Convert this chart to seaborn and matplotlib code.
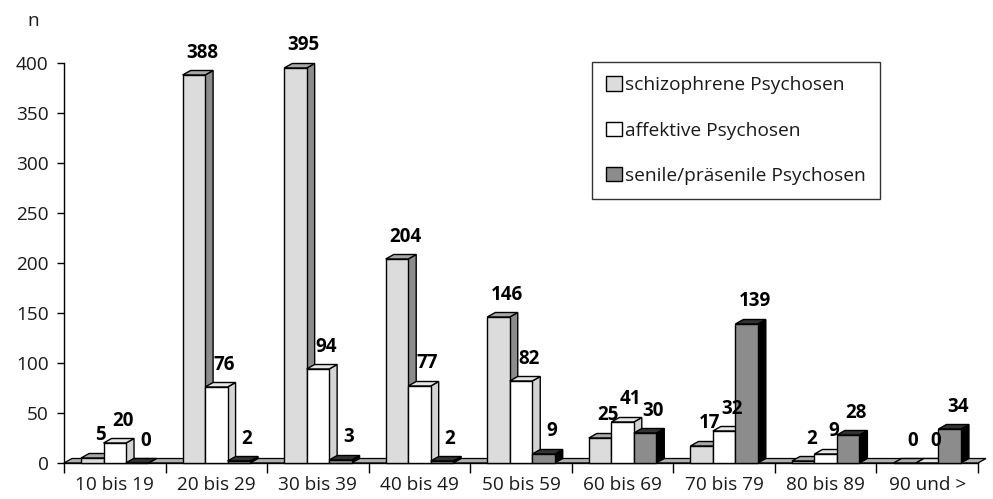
import numpy as np
import pandas as pd
import seaborn as sns
import matplotlib.pyplot as plt
from matplotlib.patches import Polygon, Patch

# Patients per age group and diagnosis
age_groups = ["10 bis 19", "20 bis 29", "30 bis 39", "40 bis 49", "50 bis 59",
              "60 bis 69", "70 bis 79", "80 bis 89", "90 und >"]
series_names = ["schizophrene Psychosen", "affektive Psychosen",
                "senile/präsenile Psychosen"]
schizophrene = [5, 388, 395, 204, 146, 25, 17, 2, 0]
affektive = [20, 76, 94, 77, 82, 41, 32, 9, 0]
senile = [0, 2, 3, 2, 9, 30, 139, 28, 34]
y_ticks = [0, 50, 100, 150, 200, 250, 300, 350, 400]

# Face shading for the pseudo-3D columns: front, right side, top
front_colors = ["#dcdcdc", "#ffffff", "#8c8c8c"]
side_colors = ["#8c8c8c", "#d4d4d4", "#000000"]
top_colors = ["#a8a8a8", "#e6e6e6", "#333333"]

df = pd.DataFrame({
    "Altersgruppe": age_groups * 3,
    "Diagnose": np.repeat(series_names, len(age_groups)),
    "n": schizophrene + affektive + senile,
})

sns.set_theme(style="white")
plt.rcParams["font.family"] = ["Open Sans", "DejaVu Sans"]

W, H = 993, 499
fig = plt.figure(figsize=(W / 100, H / 100), dpi=100)
ax = fig.add_axes([64 / W, 36 / H, 914 / W, 400 / H])

sns.barplot(data=df, x="Altersgruppe", y="n", hue="Diagnose",
            order=age_groups, hue_order=series_names, palette=front_colors,
            saturation=1, width=0.664, edgecolor="black", linewidth=1.0,
            errorbar=None, legend=False, ax=ax)

ax.set_xlim(-0.5, len(age_groups) - 0.5)
ax.set_ylim(0, 400)

# depth of the columns, given in pixels and converted to data units
depth_px = (8.0, 4.5)
x_per_px = (len(age_groups)) / 914
y_per_px = 400 / 400
dx, dy = depth_px[0] * x_per_px, depth_px[1] * y_per_px

# floor strip behind the columns
floor = Polygon([(-0.5, 0), (len(age_groups) - 0.5, 0),
                 (len(age_groups) - 0.5 + dx, dy), (-0.5 + dx, dy)],
                closed=True, facecolor="#b0b0b0", edgecolor="black",
                linewidth=0.9, zorder=1.5, clip_on=False)
ax.add_patch(floor)

values = [schizophrene, affektive, senile]
for j, container in enumerate(ax.containers):
    for i, bar in enumerate(container):
        x0, w, h = bar.get_x(), bar.get_width(), bar.get_height()
        z = 3 + j
        side = Polygon([(x0 + w, 0), (x0 + w + dx, dy), (x0 + w + dx, h + dy), (x0 + w, h)],
                       closed=True, facecolor=side_colors[j], edgecolor="black",
                       linewidth=1.0, zorder=z, clip_on=False)
        top = Polygon([(x0, h), (x0 + dx, h + dy), (x0 + w + dx, h + dy), (x0 + w, h)],
                      closed=True, facecolor=top_colors[j], edgecolor="black",
                      linewidth=1.0, zorder=z, clip_on=False)
        ax.add_patch(side)
        ax.add_patch(top)
        bar.set_zorder(z + 0.1)
        bar.set_clip_on(False)
        ax.annotate(str(values[j][i]), xy=(x0 + w / 2, h + dy), xytext=(8, 8),
                    textcoords="offset pixels", ha="center", va="bottom",
                    fontsize=13.5, fontweight="bold", color="black",
                    annotation_clip=False, zorder=10)

# category boundaries carry the tick marks, centres carry the labels
ax.set_xticks(np.arange(-0.5, len(age_groups)), labels=[])
ax.set_xticks(np.arange(len(age_groups)), labels=age_groups, minor=True)
ax.tick_params(axis="x", which="major", direction="out", length=7, width=1,
               color="black", bottom=True)
ax.tick_params(axis="x", which="minor", length=0, pad=9, labelsize=13.7,
               labelcolor="#1a1a1a")
ax.set_yticks(y_ticks)
ax.tick_params(axis="y", direction="out", length=5, width=1, color="black",
               left=True, pad=6, labelsize=13.7, labelcolor="#1a1a1a")
ax.set_xlabel("")
ax.set_ylabel("")

for s in ["top", "right"]:
    ax.spines[s].set_visible(False)
for s in ["left", "bottom"]:
    ax.spines[s].set_color("black")
    ax.spines[s].set_linewidth(1.0)
ax.spines["bottom"].set_zorder(2)

fig.text(33 / W, 1 - 21 / H, "n", ha="center", va="center", fontsize=13.7,
         color="#1a1a1a")

handles = [Patch(facecolor=c, edgecolor="black", linewidth=1.0) for c in front_colors]
leg = fig.legend(handles, series_names, loc="upper left",
                 bbox_to_anchor=(592 / W, 1 - 62 / H), frameon=True,
                 fontsize=13.8, handlelength=0.8, handleheight=0.8,
                 handletextpad=0.15, labelspacing=1.42, borderpad=0.75,
                 fancybox=False, borderaxespad=0)
leg.get_frame().set_edgecolor("black")
leg.get_frame().set_linewidth(1.0)
for t in leg.get_texts():
    t.set_color("#1a1a1a")

fig.savefig("out.png", dpi=100)
